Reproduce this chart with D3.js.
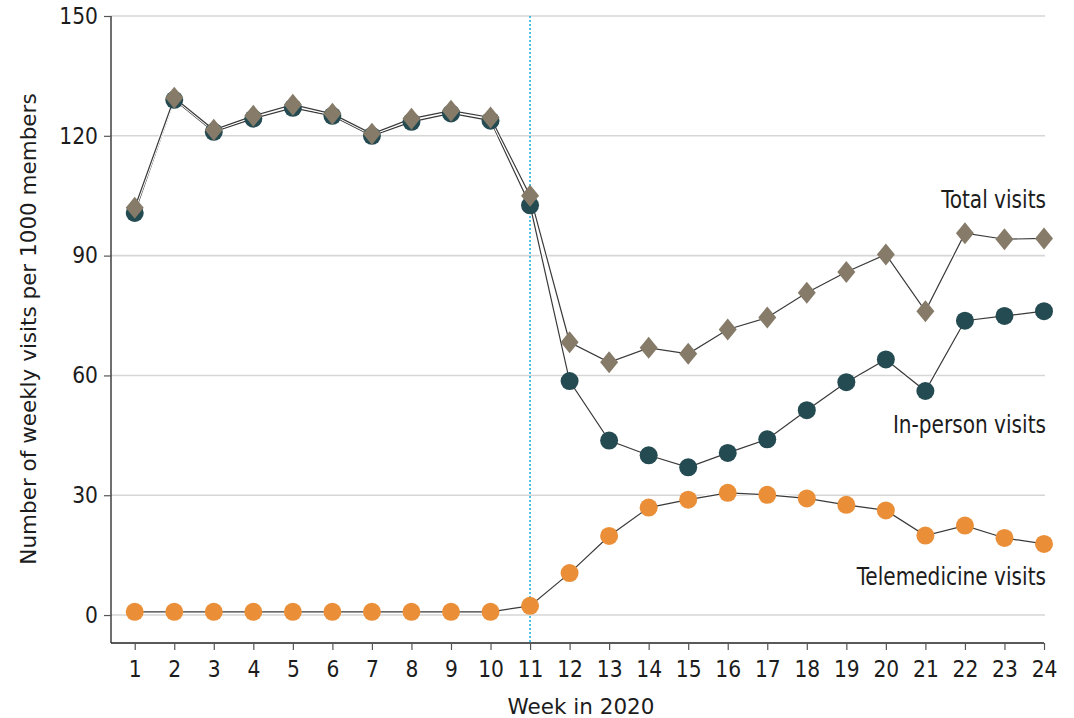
<!DOCTYPE html>
<html>
<head>
<meta charset="utf-8">
<script src="https://cdn.jsdelivr.net/npm/d3@7"></script>
<style>
  html, body { margin: 0; padding: 0; background: #fff; }
  svg { display: block; }
  text { font-family: "DejaVu Sans Condensed", "DejaVu Sans", sans-serif; fill: #1c1c1c; }
  .title { font-family: "DejaVu Sans", sans-serif; }
</style>
</head>
<body>
<svg id="chart" width="1074" height="718"></svg>
<script>
const weeks = [1,2,3,4,5,6,7,8,9,10,11,12,13,14,15,16,17,18,19,20,21,22,23,24];
const totalVisits = [102,129.5,121.5,125,127.8,125.5,120.5,124.3,126.3,124.6,105,68.3,63.3,66.9,65.4,71.5,74.5,80.7,85.9,90.3,76.1,95.6,94.1,94.3];
const inPersonVisits = [100.7,129,121,124.3,127,125,120,123.5,125.6,123.8,102.6,58.6,43.7,40,37,40.6,44,51.3,58.3,64,56.1,73.7,74.9,76.1];
const telemedicineVisits = [0.8,0.8,0.8,0.8,0.8,0.8,0.8,0.8,0.8,0.8,2.3,10.5,19.8,26.9,28.9,30.6,30.1,29.2,27.6,26.2,19.9,22.4,19.3,17.8];
const yTicks = [0,30,60,90,120,150];
const seriesLabels = ["Total visits","In-person visits","Telemedicine visits"];
const policyWeek = 11;

(function () {
const svg = d3.select("#chart");
const pLeft = 111, pRight = 1045, pTop = 16, pBottom = 643;

const x = d3.scaleLinear().domain([0.4, 24]).range([pLeft, 1044]);
const y = d3.scaleLinear().domain([-7, 150]).range([pBottom, pTop]);

// gridlines
svg.append("g").selectAll("line").data(yTicks).join("line")
  .attr("x1", pLeft).attr("x2", pRight)
  .attr("y1", d => y(d)).attr("y2", d => y(d))
  .attr("stroke", "#d6d6d6").attr("stroke-width", 1.6);

// y axis
const yAxis = svg.append("g").attr("transform", `translate(${pLeft},0)`)
  .call(d3.axisLeft(y).tickValues(yTicks).tickSize(7).tickPadding(6));
yAxis.select(".domain").attr("stroke", "#222").attr("stroke-width", 1.3)
  .attr("d", `M0,${pTop}V${pBottom}`);
yAxis.selectAll(".tick line").attr("stroke", "#555").attr("stroke-width", 1.2);
yAxis.selectAll(".tick text").style("font-size", "22.5px").attr("fill", "#1c1c1c");

// x axis
const xAxis = svg.append("g").attr("transform", `translate(0,${pBottom})`)
  .call(d3.axisBottom(x).tickValues(weeks).tickFormat(d3.format("d")).tickSize(7).tickPadding(11));
xAxis.select(".domain").attr("stroke", "#222").attr("stroke-width", 1.3)
  .attr("d", `M${pLeft},0H${x(24)}`);
xAxis.selectAll(".tick line").attr("stroke", "#555").attr("stroke-width", 1.2);
xAxis.selectAll(".tick text").style("font-size", "22.5px").attr("fill", "#1c1c1c");

// vertical dotted line
svg.append("line")
  .attr("x1", x(policyWeek)).attr("x2", x(policyWeek))
  .attr("y1", pTop).attr("y2", pBottom)
  .attr("stroke", "#22b4e0").attr("stroke-width", 1.6)
  .attr("stroke-dasharray", "2,2");

const line = d3.line().x((d,i) => x(weeks[i])).y(d => y(d));

function drawLine(vals) {
  svg.append("path").attr("d", line(vals)).attr("fill", "none")
    .attr("stroke", "#fff").attr("stroke-width", 3.2);
  svg.append("path").attr("d", line(vals)).attr("fill", "none")
    .attr("stroke", "#3a3a3a").attr("stroke-width", 1.2);
}

// telemedicine
drawLine(telemedicineVisits);
svg.append("g").selectAll("circle").data(telemedicineVisits).join("circle")
  .attr("cx", (d,i) => x(weeks[i])).attr("cy", d => y(d)).attr("r", 9)
  .attr("fill", "#ea8f38");

// in-person and total
drawLine(inPersonVisits);
drawLine(totalVisits);

svg.append("g").selectAll("circle").data(inPersonVisits).join("circle")
  .attr("cx", (d,i) => x(weeks[i])).attr("cy", d => y(d)).attr("r", 9)
  .attr("fill", "#244a52");

const diamond = "M0,-11L9,0L0,11L-9,0Z";
svg.append("g").selectAll("path").data(totalVisits).join("path")
  .attr("d", diamond)
  .attr("transform", (d,i) => `translate(${x(weeks[i])},${y(d)})`)
  .attr("fill", "#857b68");

// series labels (tall, narrow lettering)
const labelY = [208, 433, 585];
svg.append("g").selectAll("text").data(seriesLabels).join("text")
  .attr("transform", (d,i) => `translate(1046,${labelY[i]}) scale(0.905,1)`)
  .attr("text-anchor", "end").style("font-size", "24.7px")
  .text(d => d);

// axis titles
svg.append("text").attr("class", "title")
  .attr("x", 581).attr("y", 714)
  .attr("text-anchor", "middle").style("font-size", "21.5px").text("Week in 2020");
svg.append("text").attr("class", "title")
  .attr("transform", "translate(36,329) rotate(-90)")
  .attr("text-anchor", "middle").style("font-size", "21.5px")
  .text("Number of weekly visits per 1000 members");
})();
</script>
</body>
</html>
